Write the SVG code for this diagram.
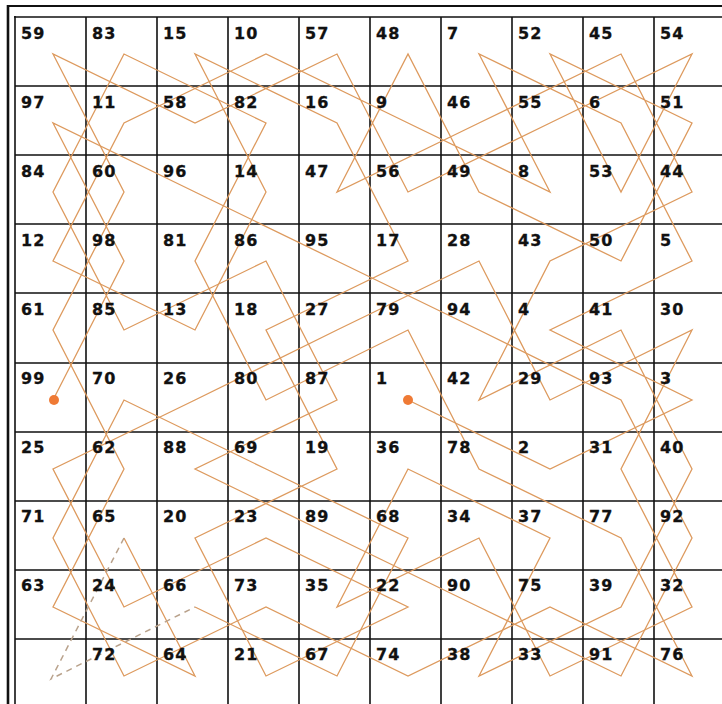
<svg xmlns="http://www.w3.org/2000/svg" width="722" height="704" viewBox="0 0 722 704">
<style>
.g{stroke:#111;stroke-width:1.6;fill:none}
.f{stroke:#111;fill:none}
.n{font-family:"DejaVu Sans","Liberation Sans",sans-serif;font-weight:bold;font-size:16px;letter-spacing:1.2px;fill:#111;stroke:#111;stroke-width:0.3}
.p{fill:none;stroke:#dd9a5e;stroke-width:1.3;stroke-linejoin:miter}
.d{fill:none;stroke:#b9a28c;stroke-width:1.5;stroke-dasharray:6 5}
.dot{fill:#ef7a35}
</style>
<rect width="722" height="704" fill="#fff"/>
<g id="frame">
<line class="f" x1="7" y1="6" x2="722" y2="6" stroke-width="2"/>
<line class="f" x1="8" y1="5" x2="8" y2="704" stroke-width="2.6"/>
</g>
<g id="grid">
<line class="g" x1="14" y1="17" x2="722" y2="17" stroke-width="3"/>
<line class="g" x1="15" y1="16" x2="15" y2="704" stroke-width="3"/>
<path class="g" d="M86 17V704M157 17V704M228 17V704M299 17V704M370 17V704M441 17V704M512 17V704M583 17V704M654 17V704M15 86H722M15 155H722M15 224H722M15 293H722M15 363H722M15 432H722M15 501H722M15 570H722M15 639H722"/>
</g>
<g id="connectors">
<polyline class="p" points="408,400 550,469 692,400 550,330 692,261 621,123 479,54 550,192 408,123 266,54 124,123 53,261 195,330 266,192 195,54 337,123 408,261 266,330 337,469 195,538 266,676 408,607 266,538 124,607 53,469 195,400 337,330 479,261 550,400 692,330 621,469 692,607 550,676 479,538 337,607 408,469 550,538 479,676 621,607 692,469 621,330 479,400 550,261 692,192 621,54 479,123 337,192 408,54 479,192 621,261 692,123 550,54 621,192 692,54 550,123 408,192 337,54 195,123 53,54 124,192 53,330 124,469 53,607 195,676 124,538"/>
<polyline class="p" points="195,607 337,676 408,538 266,469 124,400 53,538 124,676 266,607 408,676 550,607 692,676 621,538 479,469 408,330 266,400 195,261 266,123 124,54 53,192 124,330 266,261 337,400 195,469 337,538 479,607 621,676 692,538 621,400 479,330 337,261 195,192 53,123 124,261 53,400"/>
<polyline class="d" points="124,538 51,679 195,607"/>
<circle class="dot" cx="408" cy="400" r="5"/>
<circle class="dot" cx="54" cy="400" r="5"/>
</g>
<g id="r0" class="n">
<text x="21" y="39">59</text><text x="92" y="39">83</text><text x="163" y="39">15</text><text x="234" y="39">10</text><text x="305" y="39">57</text><text x="376" y="39">48</text><text x="447" y="39">7</text><text x="518" y="39">52</text><text x="589" y="39">45</text><text x="660" y="39">54</text>
</g>
<g id="r1" class="n">
<text x="21" y="108">97</text><text x="92" y="108">11</text><text x="163" y="108">58</text><text x="234" y="108">82</text><text x="305" y="108">16</text><text x="376" y="108">9</text><text x="447" y="108">46</text><text x="518" y="108">55</text><text x="589" y="108">6</text><text x="660" y="108">51</text>
</g>
<g id="r2" class="n">
<text x="21" y="177">84</text><text x="92" y="177">60</text><text x="163" y="177">96</text><text x="234" y="177">14</text><text x="305" y="177">47</text><text x="376" y="177">56</text><text x="447" y="177">49</text><text x="518" y="177">8</text><text x="589" y="177">53</text><text x="660" y="177">44</text>
</g>
<g id="r3" class="n">
<text x="21" y="246">12</text><text x="92" y="246">98</text><text x="163" y="246">81</text><text x="234" y="246">86</text><text x="305" y="246">95</text><text x="376" y="246">17</text><text x="447" y="246">28</text><text x="518" y="246">43</text><text x="589" y="246">50</text><text x="660" y="246">5</text>
</g>
<g id="r4" class="n">
<text x="21" y="315">61</text><text x="92" y="315">85</text><text x="163" y="315">13</text><text x="234" y="315">18</text><text x="305" y="315">27</text><text x="376" y="315">79</text><text x="447" y="315">94</text><text x="518" y="315">4</text><text x="589" y="315">41</text><text x="660" y="315">30</text>
</g>
<g id="r5" class="n">
<text x="21" y="384">99</text><text x="92" y="384">70</text><text x="163" y="384">26</text><text x="234" y="384">80</text><text x="305" y="384">87</text><text x="376" y="384">1</text><text x="447" y="384">42</text><text x="518" y="384">29</text><text x="589" y="384">93</text><text x="660" y="384">3</text>
</g>
<g id="r6" class="n">
<text x="21" y="453">25</text><text x="92" y="453">62</text><text x="163" y="453">88</text><text x="234" y="453">69</text><text x="305" y="453">19</text><text x="376" y="453">36</text><text x="447" y="453">78</text><text x="518" y="453">2</text><text x="589" y="453">31</text><text x="660" y="453">40</text>
</g>
<g id="r7" class="n">
<text x="21" y="522">71</text><text x="92" y="522">65</text><text x="163" y="522">20</text><text x="234" y="522">23</text><text x="305" y="522">89</text><text x="376" y="522">68</text><text x="447" y="522">34</text><text x="518" y="522">37</text><text x="589" y="522">77</text><text x="660" y="522">92</text>
</g>
<g id="r8" class="n">
<text x="21" y="591">63</text><text x="92" y="591">24</text><text x="163" y="591">66</text><text x="234" y="591">73</text><text x="305" y="591">35</text><text x="376" y="591">22</text><text x="447" y="591">90</text><text x="518" y="591">75</text><text x="589" y="591">39</text><text x="660" y="591">32</text>
</g>
<g id="r9" class="n">
<text x="92" y="660">72</text><text x="163" y="660">64</text><text x="234" y="660">21</text><text x="305" y="660">67</text><text x="376" y="660">74</text><text x="447" y="660">38</text><text x="518" y="660">33</text><text x="589" y="660">91</text><text x="660" y="660">76</text>
</g>
</svg>
